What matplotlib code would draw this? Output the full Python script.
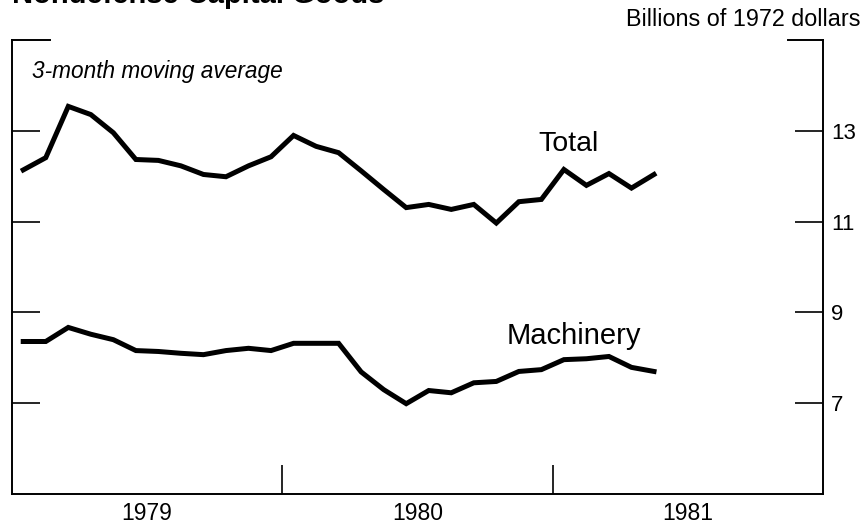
import matplotlib
matplotlib.use('Agg')
import matplotlib.pyplot as plt
import numpy as np

plt.rcParams['font.family'] = ['Liberation Sans', 'DejaVu Sans']

# monthly, Jan 1979 .. May 1981 (3-month moving average, billions of 1972 dollars)
total = [12.14, 12.41, 13.54, 13.36, 12.96, 12.37, 12.35, 12.23, 12.04, 11.99,
         12.23, 12.43, 12.90, 12.66, 12.52, 12.12, 11.71, 11.31, 11.38, 11.27,
         11.38, 10.97, 11.44, 11.49, 12.15, 11.80, 12.06, 11.74, 12.04]
machinery = [8.36, 8.36, 8.67, 8.52, 8.40, 8.16, 8.14, 8.10, 8.07, 8.16,
             8.21, 8.16, 8.32, 8.32, 8.32, 7.69, 7.30, 6.99, 7.28, 7.23,
             7.45, 7.48, 7.70, 7.74, 7.96, 7.98, 8.03, 7.79, 7.70]
start_year = 1979
years = ['1979', '1980', '1981']
yticks = [7, 9, 11, 13]

x = start_year + (np.arange(len(total)) + 0.5) / 12.0

fig = plt.figure(figsize=(8.67, 5.28), dpi=100)
ax = fig.add_axes([0.0138, 0.0644, 0.9354, 0.8596])

ax.plot(x, total, color='black', lw=3.6, solid_joinstyle='miter')
ax.plot(x, machinery, color='black', lw=3.6, solid_joinstyle='miter')

ax.set_xlim(1979, 1982)
ax.set_ylim(5, 15)

ax.spines['top'].set_visible(False)
for s in ['left', 'right', 'bottom']:
    ax.spines[s].set_linewidth(1.4)
# short corner pieces of the top border
ax.plot([0, 0.047], [1, 1], color='black', lw=1.4, transform=ax.transAxes, clip_on=False)
ax.plot([0.957, 1], [1, 1], color='black', lw=1.4, transform=ax.transAxes, clip_on=False)

ax.set_yticks(yticks)
ax.set_yticklabels([str(v) for v in yticks])
ax.tick_params(axis='y', left=True, right=True, labelleft=False, labelright=True,
               direction='in', length=20, width=1.2, labelsize=16, pad=6)

ax.set_xticks([1980, 1981])
ax.set_xticklabels([])
ax.set_xticks([int(y) + 0.5 for y in years], minor=True)
ax.set_xticklabels(years, minor=True)
ax.tick_params(axis='x', which='major', direction='in', length=21, width=1.2)
ax.tick_params(axis='x', which='minor', length=0, labelsize=16.5, pad=6)

ax.text(1981.06, 12.72, 'Total', fontsize=20.5, ha='center', va='center')
ax.text(1981.08, 8.49, 'Machinery', fontsize=21, ha='center', va='center')
ax.text(0.025, 0.93, '3-month moving average', fontsize=16.3, style='italic',
        ha='left', va='center', transform=ax.transAxes)

fig.text(0.992, 0.963, 'Billions of 1972 dollars', fontsize=16.8, ha='right', va='center')
fig.text(0.014, 0.9934, 'Nondefense Capital Goods', fontsize=21, fontweight='bold',
         ha='left', va='baseline')

fig.savefig('out.png', dpi=100)
